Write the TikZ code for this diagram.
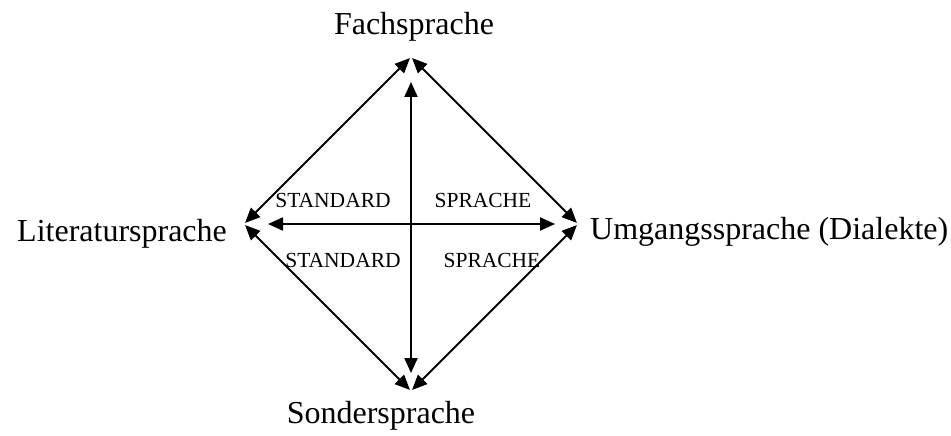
\documentclass[tikz,border=0pt]{standalone}
\usepackage{fontspec}
\setmainfont{Liberation Serif}
\usetikzlibrary{positioning}
\usetikzlibrary{arrows.meta}

\begin{document}
\begin{tikzpicture}
    [
    x=1pt, y=-1pt,
    on grid,
    lang/.style={font=\fontsize{32}{38}\selectfont, inner sep=0pt, anchor=base},
    field/.style={font=\fontsize{21.5}{26}\selectfont, inner sep=0pt, anchor=base},
    link/.style={line width=2pt, {Triangle[length=15pt, width=13pt]}-{Triangle[length=15pt, width=13pt]}},
    side/.style={link, shorten <=1.5pt, shorten >=1.5pt},
    ]

    \useasboundingbox (0,0) rectangle (951,436);

    \node[lang] (fach) at (414,35) {Fachsprache};
    \node[lang, anchor=base west] (lit) at (17,241) {Literatursprache};
    \node[lang, anchor=base west] (umg) at (590,239) {Umgangssprache (Dialekte)};
    \node[lang] (sonder) at (381,423) {Sondersprache};

    \coordinate (mid) at (411,224);
    \coordinate[above = 167pt of mid] (v_top);
    \coordinate[below = 167pt of mid] (v_bottom);
    \coordinate[left = 167pt of mid] (v_left);
    \coordinate[right = 167pt of mid] (v_right);

    \coordinate[above = 142pt of mid] (in_top);
    \coordinate[below = 149pt of mid] (in_bottom);
    \coordinate[left = 143pt of mid] (in_left);
    \coordinate[right = 144pt of mid] (in_right);

    \draw[side] (v_left) -- (v_top);
    \draw[side] (v_top) -- (v_right);
    \draw[side] (v_right) -- (v_bottom);
    \draw[side] (v_bottom) -- (v_left);

    \draw[link] (in_top) -- (in_bottom);
    \draw[link] (in_left) -- (in_right);

    \node[field] (std_up) at (333,207) {STANDARD};
    \node[field] (spr_up) at (483,207) {SPRACHE};
    \node[field] (std_down) at (343,267) {STANDARD};
    \node[field] (spr_down) at (492,267) {SPRACHE};
\end{tikzpicture}
\end{document}
